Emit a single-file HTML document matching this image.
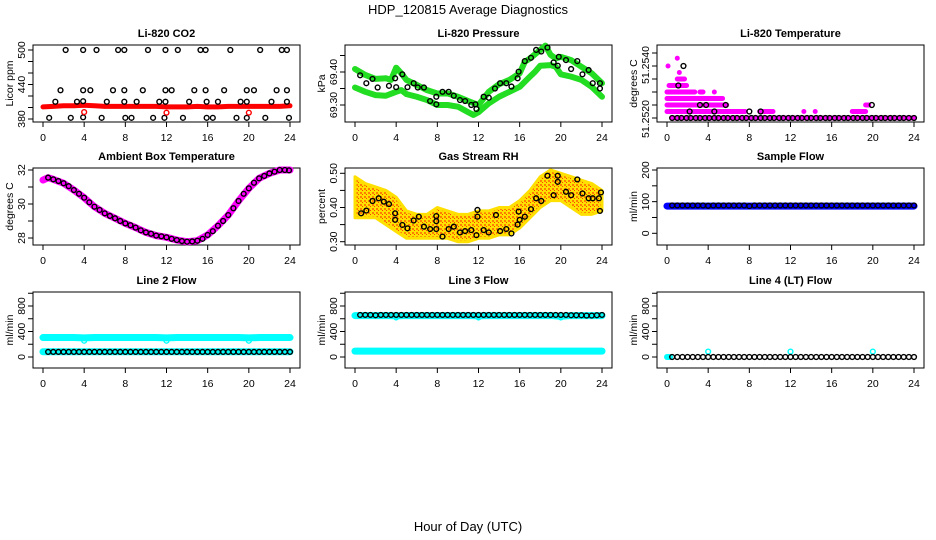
<!DOCTYPE html>
<html><head><meta charset="utf-8"><style>
html,body{margin:0;padding:0;background:#fff;}
svg{display:block;font-family:"Liberation Sans",sans-serif;}
</style></head><body>
<svg id="chart" width="936" height="540" viewBox="0 0 936 540">
<defs>
<pattern id="rhpat" width="4" height="4" patternUnits="userSpaceOnUse">
<rect width="4" height="4" fill="#ffe000"/><rect width="2" height="2" fill="#ff8000"/><rect x="2" y="2" width="1" height="1" fill="#ff4000"/>
</pattern>
</defs>
<rect width="936" height="540" fill="#fff"/>
<text x="468" y="14" text-anchor="middle" font-size="13">HDP_120815  Average Diagnostics</text>
<text x="468" y="531" text-anchor="middle" font-size="13">Hour of Day (UTC)</text>
</svg>
<script>
// ---------- data ----------
const co2BandHours = [0,1,2,3,4,5,6,7,8,9,10,11,12,13,14,15,16,17,18,19,20,21,22,23,24];
const co2Band = [401,402,403,403,404,403,402,402,402,402,402,402,401,401,401,402,401,401,402,402,402,402,402,402,403];
const co2PtHours = [2.2,3.9,5.2,7.3,7.9,10.2,11.9,13.1,15.3,15.8,18.2,21.1,23.2,23.7,
 1.7,3.9,4.6,6.8,7.9,9.7,11.9,12.5,14.7,15.8,17.6,19.8,20.5,22.7,23.7,
 1.2,3.3,3.9,6.2,7.9,9.1,11.3,11.9,14.2,15.9,17.0,19.2,19.8,22.2,23.7,
 0.6,2.7,3.9,5.7,8.0,8.6,10.7,11.8,13.6,15.9,16.5,18.8,19.8,21.6,23.9];
const co2PtVals = [500,500,500,500,500,500,500,500,500,500,500,500,500,500,
 430,430,430,430,430,430,430,430,430,430,430,430,430,430,430,
 410,410,411,410,410,410,410,410,410,410,410,410,410,410,410,
 382,382,383,382,382,382,382,382,382,382,382,382,382,382,382];
const co2RedHours = [4,12,20];
const co2RedVals = [392,391,391];

const presHours = [0,1,2,3,3.5,4,4.5,5,6,7,8,9,10,11,12,12.5,13,14,15,16,16.5,17,18,18.5,19,19.5,20,21,22,23,24];
const presUpper = [69.409,69.391,69.379,69.381,69.376,69.413,69.396,69.376,69.361,69.345,69.335,69.335,69.325,69.312,69.300,69.320,69.340,69.363,69.376,69.396,69.431,69.441,69.467,69.480,69.452,69.441,69.446,69.436,69.416,69.396,69.366];
const presLowHours = [0,1,2,3,4,4.5,5,6,7,8,9,10,11,11.5,12,13,14,15,16,17,17.5,18,19,19.5,20,21,22,23,24];
const presLower = [69.353,69.340,69.330,69.328,69.340,69.345,69.333,69.325,69.315,69.300,69.300,69.295,69.278,69.270,69.278,69.305,69.325,69.340,69.355,69.386,69.401,69.419,69.421,69.416,69.393,69.386,69.376,69.355,69.325];
const presPtHours = [0.5,1.1,1.7,2.2,3.3,3.9,4.0,4.6,5.1,5.7,6.1,6.7,7.3,7.9,7.9,8.5,9.1,9.6,10.2,10.7,11.3,11.7,11.8,12.5,13.0,13.6,14.1,14.7,15.2,15.8,15.9,16.5,17.1,17.6,18.1,18.7,19.3,19.7,19.8,20.5,21.0,21.6,22.1,22.7,23.1,23.8,23.8];
const presPtVals = [69.390,69.366,69.379,69.353,69.358,69.381,69.354,69.393,69.354,69.366,69.353,69.353,69.312,69.325,69.302,69.340,69.340,69.328,69.315,69.312,69.300,69.302,69.288,69.325,69.322,69.350,69.366,69.366,69.356,69.381,69.401,69.433,69.443,69.467,69.462,69.474,69.429,69.419,69.446,69.436,69.409,69.433,69.393,69.406,69.366,69.366,69.350];

const tmpSegLevel = [51.2515,51.25175,51.25175,51.25175,51.25175,51.25175,51.2520,51.2520,51.25225,51.2525,51.2525,51.2525,51.25275,51.2530,51.25325,51.2535,51.2538];
const tmpSegStart = [0.5,0,9,13.3,14.4,18,0,19.3,0,0,3.2,4.6,0.2,1.0,1.2,0.1,1.0];
const tmpSegEnd   = [24,7.6,10.3,13.3,14.4,19.3,5.8,19.6,5.4,2.7,3.5,4.6,1.9,1.7,1.2,0.1,1.0];
const tmpBlackHours = [0.5,1.0,1.4,1.9,2.3,2.8,3.2,3.7,4.1,4.6,5.0,5.5,5.9,6.4,6.8,7.3,7.7,8.2,8.6,9.1,9.5,10.0,10.4,10.9,11.3,11.8,12.2,12.7,13.1,13.6,14.0,14.5,14.9,15.4,15.8,16.3,16.7,17.2,17.6,18.1,18.5,19.0,19.4,19.9,20.3,20.8,21.2,21.7,22.1,22.6,23.0,23.5,24.0,2.2,4.6,8.0,9.1,3.2,3.8,5.7,19.9,1.1,1.6];
const tmpBlackVals = [51.2515,51.2515,51.2515,51.2515,51.2515,51.2515,51.2515,51.2515,51.2515,51.2515,51.2515,51.2515,51.2515,51.2515,51.2515,51.2515,51.2515,51.2515,51.2515,51.2515,51.2515,51.2515,51.2515,51.2515,51.2515,51.2515,51.2515,51.2515,51.2515,51.2515,51.2515,51.2515,51.2515,51.2515,51.2515,51.2515,51.2515,51.2515,51.2515,51.2515,51.2515,51.2515,51.2515,51.2515,51.2515,51.2515,51.2515,51.2515,51.2515,51.2515,51.2515,51.2515,51.2515,51.25175,51.25175,51.25175,51.25175,51.2520,51.2520,51.2520,51.2520,51.25275,51.2535];

const ambHours = [0,0.5,1,2,3,4,5,6,7,8,9,10,11,12,13,14,15,16,17,18,19,20,21,22,23,24];
const ambBand = [31.41,31.55,31.45,31.22,30.82,30.37,29.84,29.45,29.16,28.86,28.61,28.33,28.14,28.04,27.88,27.78,27.84,28.18,28.72,29.35,30.18,30.92,31.51,31.80,32.0,32.0];
const ambPtHours = [0.5,1,1.5,2,2.5,3,3.5,4,4.5,5,5.5,6,6.5,7,7.5,8,8.5,9,9.5,10,10.5,11,11.5,12,12.5,13,13.5,14,14.5,15,15.5,16,16.5,17,17.5,18,18.5,19,19.5,20,20.5,21,21.5,22,22.5,23,23.5,23.9];
const ambPtVals = [31.55,31.45,31.35,31.22,31.05,30.82,30.6,30.37,30.1,29.84,29.65,29.45,29.3,29.16,29.0,28.86,28.75,28.61,28.45,28.33,28.25,28.14,28.1,28.04,27.95,27.88,27.82,27.78,27.8,27.84,27.95,28.18,28.4,28.72,29.0,29.35,29.75,30.18,30.6,30.92,31.25,31.51,31.65,31.8,31.9,32.0,32.0,31.98];

const rhHours = [0,1,2,3,4,5,6,7,8,9,10,11,12,13,14,15,16,17,18,19,20,21,22,23,24];
const rhUpper = [0.49,0.47,0.46,0.45,0.43,0.39,0.38,0.38,0.40,0.39,0.38,0.38,0.39,0.39,0.40,0.40,0.42,0.45,0.49,0.51,0.50,0.49,0.48,0.47,0.45];
const rhLower = [0.37,0.37,0.37,0.35,0.33,0.31,0.31,0.31,0.31,0.31,0.30,0.30,0.31,0.31,0.32,0.32,0.34,0.37,0.40,0.42,0.42,0.40,0.38,0.38,0.39];
const rhPtHours = [0.6,1.1,1.7,2.3,2.8,3.3,3.9,3.9,4.6,5.1,5.7,6.2,6.7,7.3,7.9,7.9,7.9,8.5,9.1,9.6,10.2,10.7,11.3,11.8,11.9,11.9,12.5,13.0,13.7,14.1,14.7,15.2,15.8,15.9,16.0,16.5,17.1,17.6,18.1,18.7,19.3,19.7,19.7,20.5,21.0,21.6,22.1,22.7,23.1,23.7,23.8,23.9];
const rhPtVals = [0.383,0.391,0.419,0.427,0.417,0.410,0.383,0.364,0.349,0.339,0.362,0.373,0.344,0.337,0.337,0.360,0.375,0.315,0.337,0.344,0.327,0.331,0.334,0.319,0.373,0.393,0.334,0.327,0.378,0.331,0.337,0.324,0.350,0.388,0.364,0.373,0.395,0.427,0.419,0.493,0.436,0.475,0.493,0.446,0.436,0.482,0.441,0.427,0.427,0.427,0.390,0.444];

const flowHours = [0,1,2,3,4,5,6,7,8,9,10,11,12,13,14,15,16,17,18,19,20,21,22,23,24];
const ptHours = [0.5,1,1.5,2,2.5,3,3.5,4,4.5,5,5.5,6,6.5,7,7.5,8,8.5,9,9.5,10,10.5,11,11.5,12,12.5,13,13.5,14,14.5,15,15.5,16,16.5,17,17.5,18,18.5,19,19.5,20,20.5,21,21.5,22,22.5,23,23.5,24];
const sfBand = [86,86,86,86,86,86,86,86,86,86,86,86,86,86,86,86,86,86,86,86,86,86,86,86,86];
const sfBlack = [88,88,88,88,88,88,88,87,88,88,88,88,88,88,88,86,88,88,88,88,88,88,88,88,88,88,88,88,88,88,88,88,88,88,88,88,88,88,88,88,88,88,88,88,88,88,88,88];
const l2CyanHi = [305,305,305,305,300,305,305,305,305,305,305,305,300,305,305,305,305,305,305,305,300,305,305,305,305];
const l2CyanLo = [82,82,82,82,82,82,82,82,82,82,82,82,82,82,82,82,82,82,82,82,82,82,82,82,82];
const l2DipHours = [4,12,20];
const l2DipVals = [255,255,255];
const l2Black = [80,80,80,80,80,80,80,80,80,80,80,80,80,80,80,80,80,80,80,80,80,80,80,80,80,80,80,80,80,80,80,80,80,80,80,80,80,80,80,80,80,80,80,80,80,80,80,80];
const l3CyanHi = [650,650,650,650,645,650,650,650,650,650,650,650,645,650,650,650,650,650,650,650,640,650,650,650,650];
const l3CyanLo = [92,92,92,92,92,92,92,92,92,92,92,92,92,92,92,92,92,92,92,92,92,92,92,92,92];
const l3DipHours = [4,12,20];
const l3DipVals = [620,620,620];
const l3Black = [660,660,660,655,660,660,660,660,660,660,660,660,660,660,660,660,660,660,660,660,660,660,660,660,660,660,660,660,660,660,660,660,660,660,660,660,660,660,660,660,660,655,655,655,650,650,655,660];
const l4CyanHours = [0,0.3];
const l4CyanVals = [0,0];
const l4DipHours = [4,12,20];
const l4DipVals = [85,85,85];
const l4Black = [0,0,0,0,0,0,0,0,0,0,0,0,0,0,0,0,0,0,0,0,0,0,0,0,0,0,0,0,0,0,0,0,0,0,0,0,0,0,0,0,0,0,0,0,0,0,0,0];

// ---------- drawing ----------
const NS = "http://www.w3.org/2000/svg";
const svg = document.getElementById("chart");
function mk(tag, attrs, parent) {
  const e = document.createElementNS(NS, tag);
  for (const k in attrs) e.setAttribute(k, attrs[k]);
  (parent || svg).appendChild(e);
  return e;
}
const rowTop = [45, 168, 292];
const rowBot = [122, 245, 368];

function panel(c, r, title, ylab, v1, y1, v2, y2, ticks, labels, labelTxt) {
  const L = 33 + 312 * c, R = 300 + 312 * c, T = rowTop[r], B = rowBot[r];
  const g = mk("g", {});
  
  
  const sx = h => 43 + 312 * c + h * 247 / 24;
  const sy = v => y1 + (v - v1) * (y2 - y1) / (v2 - v1);
  const box = mk("rect", {x: L, y: T, width: R - L, height: B - T, fill: "none", stroke: "#000", "stroke-width": 1}, g);
  
  
  const tt = mk("text", {x: (L + R) / 2, y: T - 8, "text-anchor": "middle", "font-size": 11, "font-weight": "bold"}, g);
  tt.textContent = title;
  
  
  const xa = mk("g", {stroke: "#000", "stroke-width": 1}, g);
  
  
  mk("line", {x1: sx(0), x2: sx(24), y1: B, y2: B}, xa);
  for (let h = 0; h <= 24; h += 4) {
    mk("line", {x1: sx(h), x2: sx(h), y1: B, y2: B + 5}, xa);
    const t = mk("text", {x: sx(h), y: B + 19, "text-anchor": "middle", "font-size": 10.5, stroke: "none"}, xa);
    t.textContent = h;
    
    
  }
  const ya = mk("g", {stroke: "#000", "stroke-width": 1}, g);
  
  
  mk("line", {x1: L, x2: L, y1: sy(ticks[0]), y2: sy(ticks[ticks.length - 1])}, ya);
  ticks.forEach(v => mk("line", {x1: L - 5, x2: L, y1: sy(v), y2: sy(v)}, ya));
  labels.forEach((v, i) => {
    const yy = sy(v) + (labelTxt && labelTxt.off ? labelTxt.off[i] : 0);
    const t = mk("text", {x: L - 8, y: yy, "text-anchor": "middle", "font-size": 10.5, stroke: "none", transform: `rotate(-90 ${L - 8} ${yy})`}, ya);
    t.textContent = labelTxt ? labelTxt.txt[i] : String(v);
    
    
  });
  const yt = mk("text", {x: L - 20, y: (T + B) / 2, "text-anchor": "middle", "font-size": 10.5, transform: `rotate(-90 ${L - 20} ${(T + B) / 2})`}, g);
  yt.textContent = ylab;
  
  
  return {g, sx, sy};
}
function band(p, hs, vs, color, w, name) {
  const pl = mk("polyline", {points: hs.map((h, i) => p.sx(h) + "," + p.sy(vs[i])).join(" "), fill: "none", stroke: color, "stroke-width": w, "stroke-linecap": "round", "stroke-linejoin": "round"}, p.g);
  
  
}
function pts(p, hs, vs, color, name, r) {
  const gg = mk("g", {fill: "none", stroke: color, "stroke-width": 1.4}, p.g);
  
  
  hs.forEach((h, i) => {
    const c = mk("circle", {cx: p.sx(h), cy: p.sy(vs[i]), r: r || 2.4}, gg);
    
    
  });
}

let p = panel(0, 0, "Li-820 CO2", "Licor ppm", 500, 50, 380, 119, [380,400,420,440,460,480,500], [380,440,500]);
band(p, co2BandHours, co2Band, "#ff0000", 5, "co2-red-band");
pts(p, co2PtHours, co2PtVals, "#000", "co2-black-series");
pts(p, co2RedHours, co2RedVals, "#ff0000", "co2-red-outliers");

p = panel(1, 0, "Li-820 Pressure", "kPa", 69.30, 105, 69.40, 72, [69.30,69.35,69.40,69.45], [69.30,69.40], {txt: ["69.30","69.40"]});
band(p, presHours, presUpper, "#22dd22", 6, "pressure-upper-band");
band(p, presLowHours, presLower, "#22dd22", 6, "pressure-lower-band");
pts(p, presPtHours, presPtVals, "#000", "pressure-black-series");

p = panel(2, 0, "Li-820 Temperature", "degrees C", 51.2520, 105, 51.2540, 53, [51.2515,51.2520,51.2525,51.2530,51.2535,51.2540], [51.2520,51.2540], {txt: ["51.2520","51.2540"], off: [14, 12]});
tmpSegLevel.forEach((lv, i) => {
  const ln = mk("line", {x1: p.sx(tmpSegStart[i]), x2: p.sx(tmpSegEnd[i]), y1: p.sy(lv), y2: p.sy(lv), stroke: "#ff00ff", "stroke-width": 5, "stroke-linecap": "round"}, p.g);
  
  
});
pts(p, tmpBlackHours, tmpBlackVals, "#000", "temperature-black-series");

p = panel(0, 1, "Ambient Box Temperature", "degrees C", 32, 170, 28, 238, [28,29,30,31,32], [28,30,32]);
band(p, ambHours, ambBand, "#ff00ff", 7, "ambient-magenta-band");
pts(p, ambPtHours, ambPtVals, "#000", "ambient-black-series");

p = panel(1, 1, "Gas Stream RH", "percent", 0.50, 173.3, 0.30, 241.7, [0.30,0.35,0.40,0.45,0.50], [0.30,0.40,0.50], {txt: ["0.30","0.40","0.50"]});
const poly = rhHours.map((h, i) => p.sx(h) + "," + p.sy(rhUpper[i])).concat(rhHours.slice().reverse().map((h, j) => p.sx(h) + "," + p.sy(rhLower[rhHours.length - 1 - j])));
const rhB = mk("polygon", {points: poly.join(" "), fill: "url(#rhpat)", stroke: "#ffe000", "stroke-width": 3, "stroke-linejoin": "round"}, p.g);


pts(p, rhPtHours, rhPtVals, "#000", "rh-black-series");

p = panel(2, 1, "Sample Flow", "ml/min", 200, 170, 0, 233.3, [0,50,100,150,200], [0,100,200]);
band(p, flowHours, sfBand, "#0000ff", 7, "sample-flow-blue-band");
pts(p, ptHours, sfBlack, "#000", "sample-flow-black-series");

p = panel(0, 2, "Line 2 Flow", "ml/min", 0, 357, 800, 306, [0,200,400,600,800,1000], [0,400,800]);
band(p, flowHours, l2CyanHi, "#00ffff", 7, "line2-cyan-high-band");
band(p, flowHours, l2CyanLo, "#00ffff", 7, "line2-cyan-low-band");
pts(p, l2DipHours, l2DipVals, "#00ffff", "line2-cyan-dips");
pts(p, ptHours, l2Black, "#000", "line2-black-series");

p = panel(1, 2, "Line 3 Flow", "ml/min", 0, 357, 800, 306, [0,200,400,600,800,1000], [0,400,800]);
band(p, flowHours, l3CyanHi, "#00ffff", 7, "line3-cyan-high-band");
band(p, flowHours, l3CyanLo, "#00ffff", 7, "line3-cyan-low-band");
pts(p, l3DipHours, l3DipVals, "#00ffff", "line3-cyan-dips");
pts(p, ptHours, l3Black, "#000", "line3-black-series");

p = panel(2, 2, "Line 4 (LT) Flow", "ml/min", 0, 357, 800, 306, [0,200,400,600,800,1000], [0,400,800]);
band(p, l4CyanHours, l4CyanVals, "#00ffff", 6, "line4-cyan-start");
pts(p, l4DipHours, l4DipVals, "#00ffff", "line4-cyan-spikes");
pts(p, ptHours, l4Black, "#000", "line4-black-series");
</script>
</body></html>
